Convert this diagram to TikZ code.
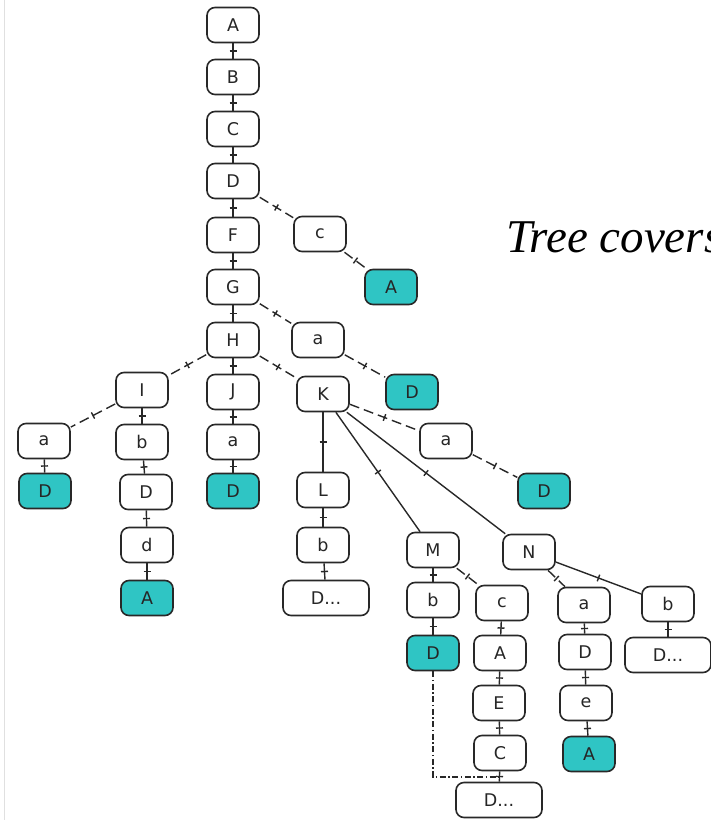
\documentclass[tikz,border=0pt]{standalone}
\usepackage{fontspec}
\setmainfont{Liberation Serif}
\newfontfamily\nodefont{DejaVu Sans}
\usetikzlibrary{decorations.markings,calc}
\definecolor{tealfill}{RGB}{47,197,196}
\definecolor{edgecol}{RGB}{40,40,40}
\begin{document}
\begin{tikzpicture}[x=1pt,y=-1pt,
  box/.style={draw=edgecol, line width=1.6pt, rounded corners=8pt, minimum width=52pt, minimum height=35pt, inner sep=2pt, font=\nodefont\fontsize{17.5}{19}\selectfont, text=black!85, fill=white},
  wide/.style={box, minimum width=86pt},
  leaf/.style={box, fill=tealfill},
  edge/.style={draw=edgecol, line width=1.4pt,
    decoration={markings, mark=at position 0.5 with {\draw[solid, line width=1.4pt] (0,-3.5pt) -- (0,3.5pt);}},
    postaction={decorate}},
  dedge/.style={edge, dash pattern=on 10pt off 5pt},
  ddot/.style={draw=edgecol, line width=1.4pt, dash pattern=on 6pt off 2.5pt on 1.5pt off 2.5pt}
]
\clip (0,0) rectangle (711,820);
\useasboundingbox (0,0) rectangle (711,820);
\fill[white] (0,0) rectangle (711,820);
\draw[black!12, line width=1pt] (4,0) -- (4,820);

\node[anchor=base west, inner sep=0pt, font=\itshape\fontsize{47}{50}\selectfont] (title) at (506,252) {Tree covers};

\node[box] (A0) at (233,25) {A};
\node[box] (B) at (233,77) {B};
\node[box] (C) at (233,129) {C};
\node[box] (D) at (233,181) {D};
\node[box] (F) at (233,235) {F};
\node[box] (c1) at (320,234) {c};
\node[leaf] (A1) at (391,287) {A};
\node[box] (G) at (233,287) {G};
\node[box] (a1) at (318,340) {a};
\node[box] (H) at (233,340) {H};
\node[leaf] (D1) at (412,392) {D};
\node[box] (I) at (142,390) {I};
\node[box] (J) at (233,392) {J};
\node[box] (K) at (323,394) {K};
\node[box] (a2) at (44,441) {a};
\node[box] (b2) at (142,442) {b};
\node[box] (a3) at (233,442) {a};
\node[box] (a4) at (446,441) {a};
\node[leaf] (D2) at (45,491) {D};
\node[box] (D3) at (146,492) {D};
\node[leaf] (D4) at (233,491) {D};
\node[box] (L) at (323,490) {L};
\node[leaf] (D5) at (544,491) {D};
\node[box] (d) at (147,545) {d};
\node[box] (b3) at (323,545) {b};
\node[box] (M) at (433,550) {M};
\node[box] (N) at (529,552) {N};
\node[leaf] (A2) at (147,598) {A};
\node[wide] (Dd1) at (326,598) {D...};
\node[box] (b4) at (433,600) {b};
\node[box] (c2) at (502,603) {c};
\node[box] (a5) at (584,605) {a};
\node[box] (b5) at (668,604) {b};
\node[leaf] (D6) at (433,653) {D};
\node[box] (A3) at (500,653) {A};
\node[box] (D7) at (585,652) {D};
\node[wide] (Dd2) at (668,655) {D...};
\node[box] (E) at (499,703) {E};
\node[box] (e) at (586,703) {e};
\node[box] (C2) at (500,753) {C};
\node[leaf] (A4) at (589,754) {A};
\node[wide] (Dd3) at (499,800) {D...};

\path[edge] (A0) -- (B);
\path[edge] (B) -- (C);
\path[edge] (C) -- (D);
\path[edge] (D) -- (F);
\path[dedge] (D) -- (c1);
\path[dedge] (c1) -- (A1);
\path[edge] (F) -- (G);
\path[edge] (G) -- (H);
\path[dedge] (G) -- (a1);
\path[dedge] (a1) -- (D1);
\path[dedge] (H) -- (I);
\path[edge] (H) -- (J);
\path[dedge] (H) -- (K);
\path[dedge] (I) -- (a2);
\path[edge] (I) -- (b2);
\path[edge] (a2) -- (D2);
\path[edge] (b2) -- (D3);
\path[edge] (D3) -- (d);
\path[edge] (d) -- (A2);
\path[edge] (J) -- (a3);
\path[edge] (a3) -- (D4);
\path[edge] (K) -- (L);
\path[edge] (K) -- (M);
\path[edge] (K) -- (N);
\path[dedge] (K) -- (a4);
\path[dedge] (a4) -- (D5);
\path[edge] (L) -- (b3);
\path[edge] (b3) -- (Dd1);
\path[edge] (M) -- (b4);
\path[dedge] (M) -- (c2);
\path[dedge] (N) -- (a5);
\path[edge] (N) -- (b5);
\path[edge] (b4) -- (D6);
\path[edge] (c2) -- (A3);
\path[edge] (A3) -- (E);
\path[edge] (E) -- (C2);
\path[edge] (C2) -- (Dd3);
\path[edge] (a5) -- (D7);
\path[edge] (D7) -- (e);
\path[edge] (e) -- (A4);
\path[edge] (b5) -- (Dd2);
\coordinate (join) at ($(C2.south)!0.55!(Dd3.north)$);
\draw[ddot] (D6.south) |- (join);
\end{tikzpicture}
\end{document}
